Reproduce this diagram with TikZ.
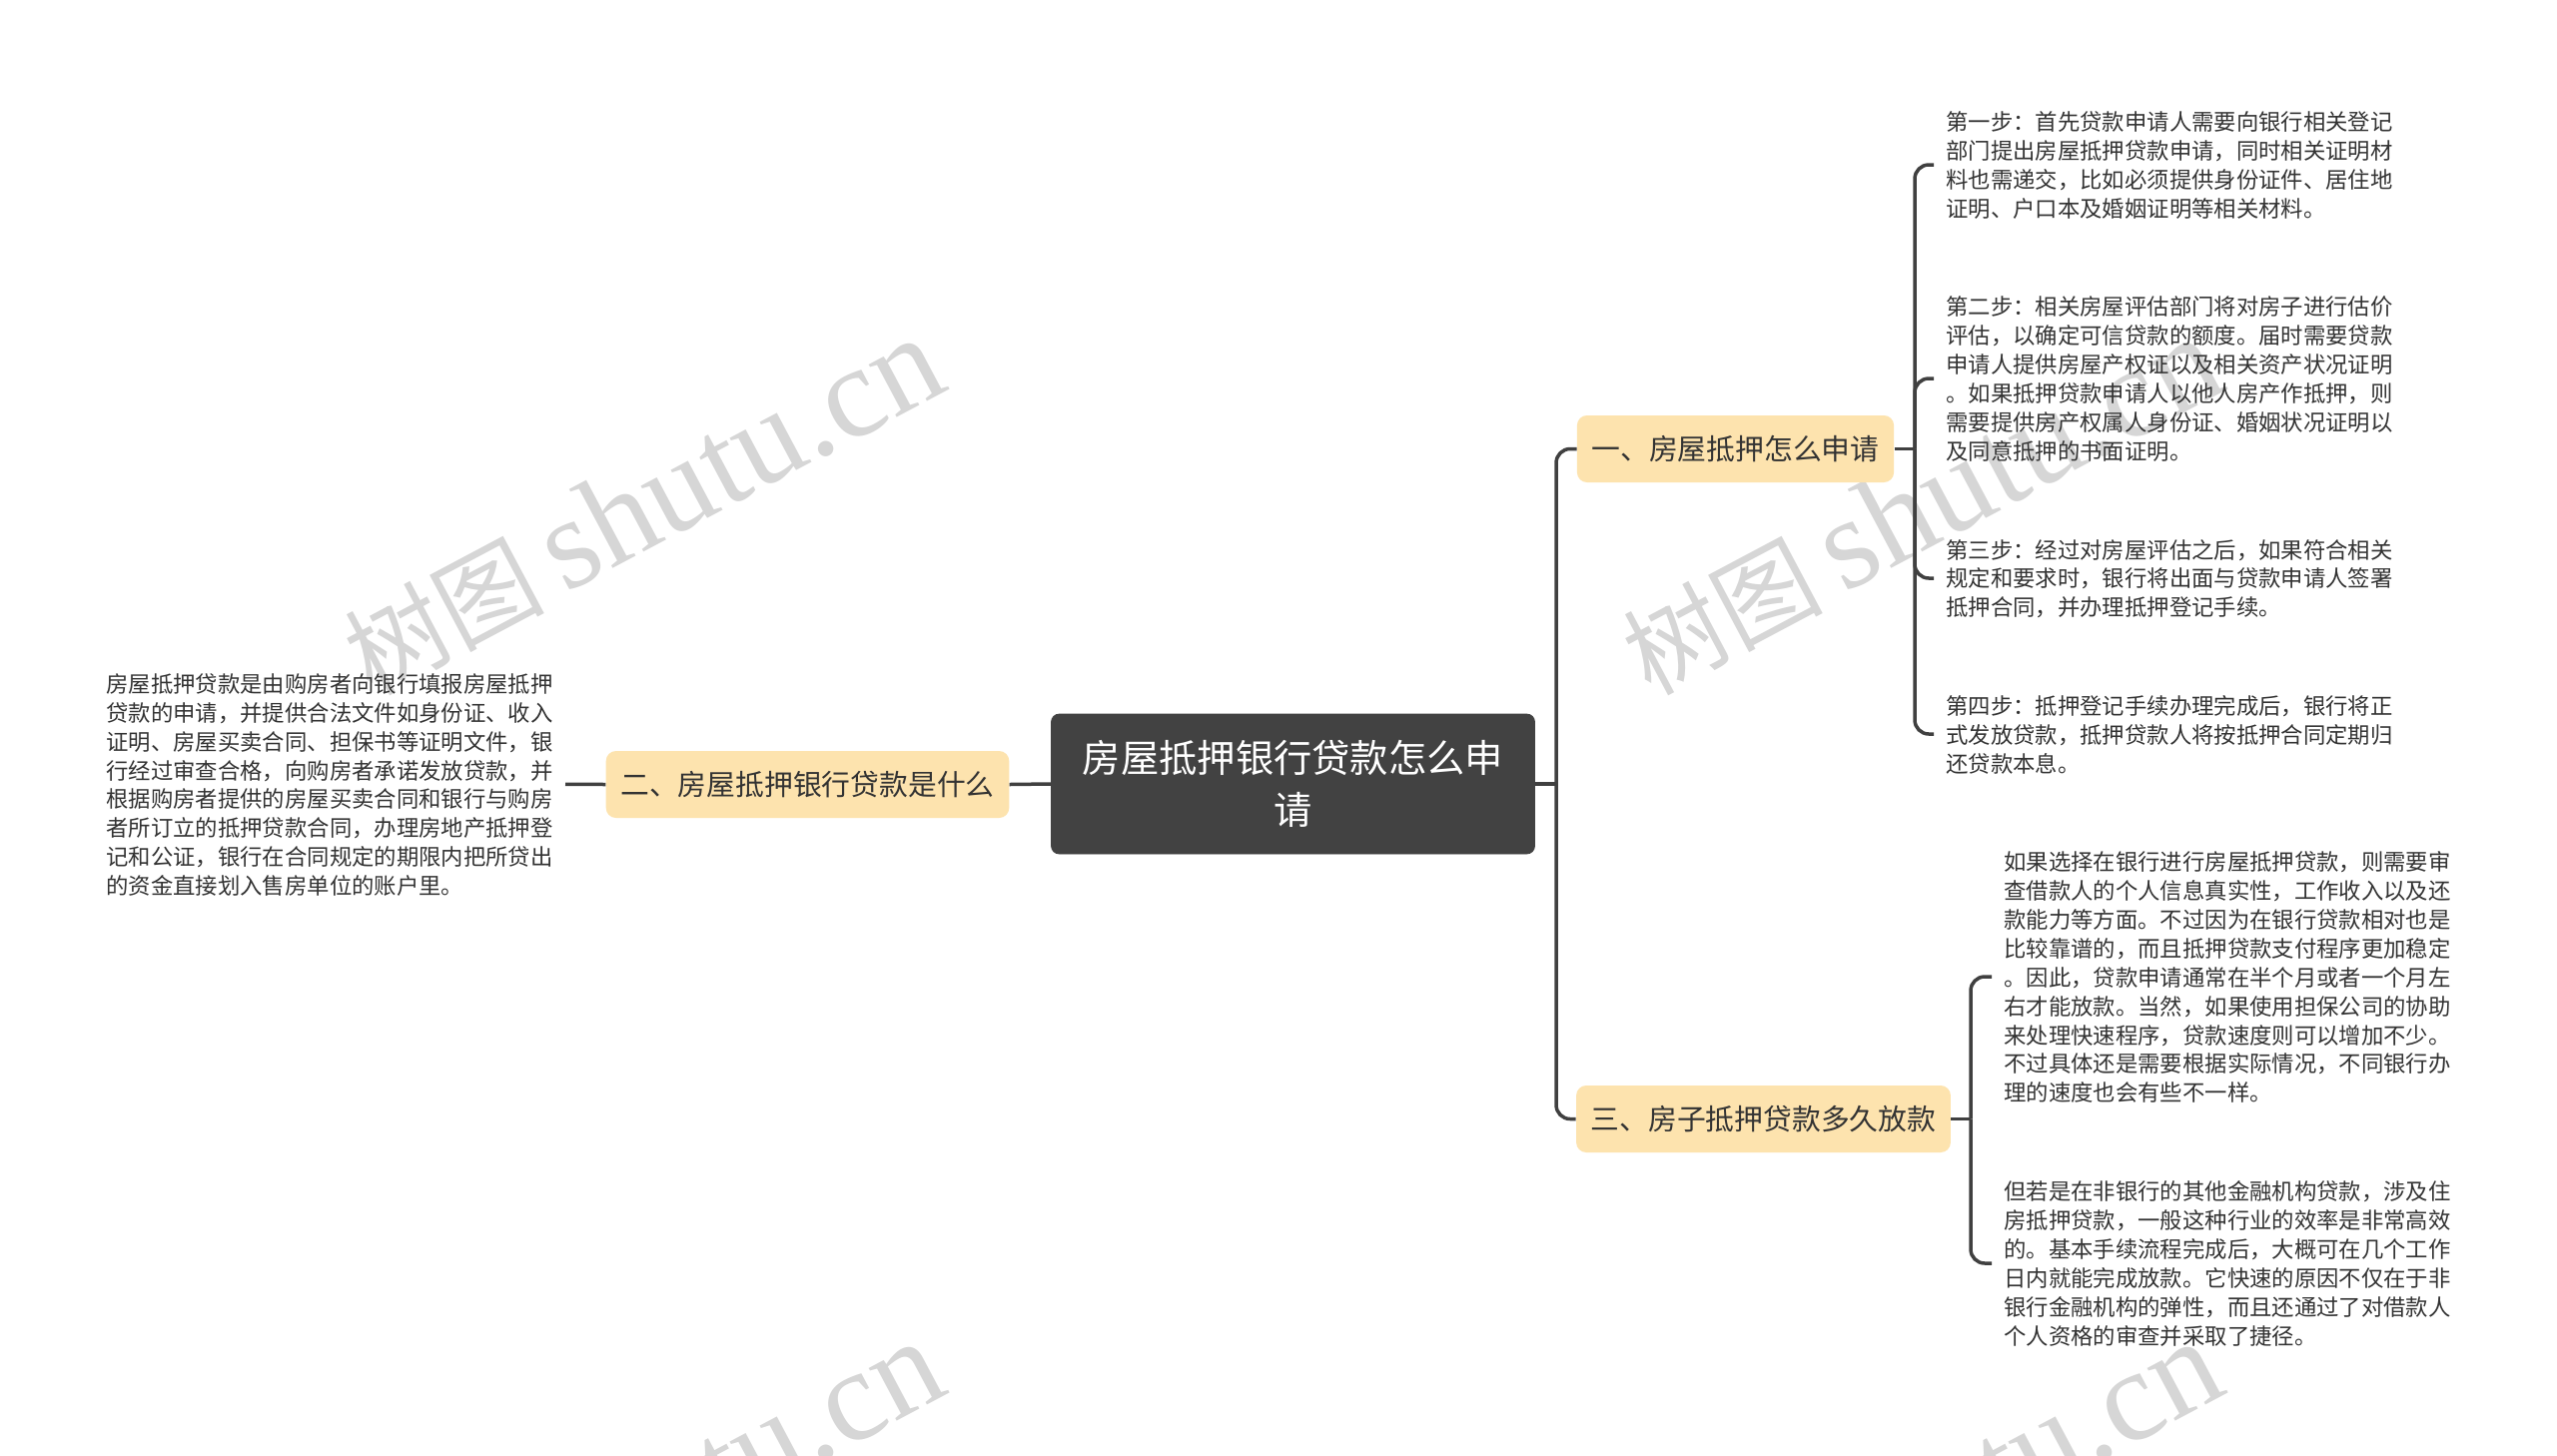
\documentclass[tikz,border=0pt]{standalone}
\usepackage{fontspec}
\setmainfont{Noto Sans CJK SC}
\newfontfamily\wmlatin{Liberation Serif}
\definecolor{linecol}{HTML}{404040}
\definecolor{rootfill}{HTML}{424242}
\definecolor{branchfill}{HTML}{FDE3AE}
\definecolor{inkcol}{HTML}{333333}
\definecolor{wmcol}{HTML}{D6D6D6}
\tikzset{
  conn/.style={draw=linecol,line width=1.75pt,rounded corners=7pt},
  rootbox/.style={fill=rootfill,draw=rootfill,line width=0.4pt,rounded corners=4pt,minimum width=242pt,minimum height=70pt,inner sep=0pt,align=center,text=white,font=\fontsize{19.15}{25.8}\selectfont},
  branchbox/.style={fill=branchfill,rounded corners=5pt,minimum height=33.5pt,inner xsep=7.3pt,inner ysep=0pt,text=inkcol,font=\fontsize{14.4}{18}\selectfont},
  leafbox/.style={inner xsep=6pt,inner ysep=0pt,align=left,text=inkcol,font=\fontsize{11.18}{14.45}\selectfont},
  wmark/.style={anchor=base west,rotate=28,text=wmcol,inner sep=0pt,font=\fontsize{50}{50}\selectfont}
}
\newcommand{\wmtext}{树图\hspace{10pt}{\wmlatin\fontsize{65}{65}\selectfont shutu.cn}}
\begin{document}
\begin{tikzpicture}[x=0.5pt,y=-0.5pt]
\useasboundingbox (0,0) rectangle (2560,1457);
\begin{scope}
\clip (0,0) rectangle (2560,1457);
\fill[white] (0,0) rectangle (2560,1457);
\node[wmark] (wma) at (372,698) {\wmtext};
\node[wmark] (wmb) at (1652,698) {\wmtext};
\node[wmark] (wmc) at (372,1703) {\wmtext};
\node[wmark] (wmd) at (1652,1703) {\wmtext};
\end{scope}

\node[rootbox] (root) at (1294.5,785) {房屋抵押银行贷款怎么申\\请};
\node[branchbox] (b1) at (1737.5,449.5) {一、房屋抵押怎么申请};
\node[branchbox] (b2) at (808.5,785.5) {二、房屋抵押银行贷款是什么};
\node[branchbox] (b3) at (1765.5,1120.5) {三、房子抵押贷款多久放款};

\node[leafbox,anchor=east] (left) at (566,786) {房屋抵押贷款是由购房者向银行填报房屋抵押\\贷款的申请，并提供合法文件如身份证、收入\\证明、房屋买卖合同、担保书等证明文件，银\\行经过审查合格，向购房者承诺发放贷款，并\\根据购房者提供的房屋买卖合同和银行与购房\\者所订立的抵押贷款合同，办理房地产抵押登\\记和公证，银行在合同规定的期限内把所贷出\\的资金直接划入售房单位的账户里。};

\node[leafbox,anchor=west] (s1) at (1936,165.7) {第一步：首先贷款申请人需要向银行相关登记\\部门提出房屋抵押贷款申请，同时相关证明材\\料也需递交，比如必须提供身份证件、居住地\\证明、户口本及婚姻证明等相关材料。};
\node[leafbox,anchor=west] (s2) at (1936,379.7) {第二步：相关房屋评估部门将对房子进行估价\\评估，以确定可信贷款的额度。届时需要贷款\\申请人提供房屋产权证以及相关资产状况证明\\。如果抵押贷款申请人以他人房产作抵押，则\\需要提供房产权属人身份证、婚姻状况证明以\\及同意抵押的书面证明。};
\node[leafbox,anchor=west] (s3) at (1936,579.7) {第三步：经过对房屋评估之后，如果符合相关\\规定和要求时，银行将出面与贷款申请人签署\\抵押合同，并办理抵押登记手续。};
\node[leafbox,anchor=west] (s4) at (1936,735.7) {第四步：抵押登记手续办理完成后，银行将正\\式发放贷款，抵押贷款人将按抵押合同定期归\\还贷款本息。};

\node[leafbox,anchor=west] (t1) at (1994,978.7) {如果选择在银行进行房屋抵押贷款，则需要审\\查借款人的个人信息真实性，工作收入以及还\\款能力等方面。不过因为在银行贷款相对也是\\比较靠谱的，而且抵押贷款支付程序更加稳定\\。因此，贷款申请通常在半个月或者一个月左\\右才能放款。当然，如果使用担保公司的协助\\来处理快速程序，贷款速度则可以增加不少。\\不过具体还是需要根据实际情况，不同银行办\\理的速度也会有些不一样。};
\node[leafbox,anchor=west] (t2) at (1994,1265.7) {但若是在非银行的其他金融机构贷款，涉及住\\房抵押贷款，一般这种行业的效率是非常高效\\的。基本手续流程完成后，大概可在几个工作\\日内就能完成放款。它快速的原因不仅在于非\\银行金融机构的弹性，而且还通过了对借款人\\个人资格的审查并采取了捷径。};

\coordinate (hubr) at (1558,785);
\coordinate (hubb) at (1917,449.5);
\coordinate (hubc) at (1973,1120.5);

\draw[conn] (b2.east) -- (root.west);
\draw[conn] ([yshift=0.35pt]left.east) -- (b2.west);
\draw[conn] (root.east) -- (hubr);
\draw[conn] (hubr) |- (b1.west);
\draw[conn] (hubr) |- (b3.west);
\draw[conn] (b1.east) -- (hubb);
\draw[conn] (hubb) |- ([yshift=0.35pt]s1.west);
\draw[conn] (hubb) |- ([yshift=0.35pt]s2.west);
\draw[conn] (hubb) |- ([yshift=0.35pt]s3.west);
\draw[conn] (hubb) |- ([yshift=0.35pt]s4.west);
\draw[conn] (b3.east) -- (hubc);
\draw[conn] (hubc) |- ([yshift=0.35pt]t1.west);
\draw[conn] (hubc) |- ([yshift=0.35pt]t2.west);
\end{tikzpicture}
\end{document}
